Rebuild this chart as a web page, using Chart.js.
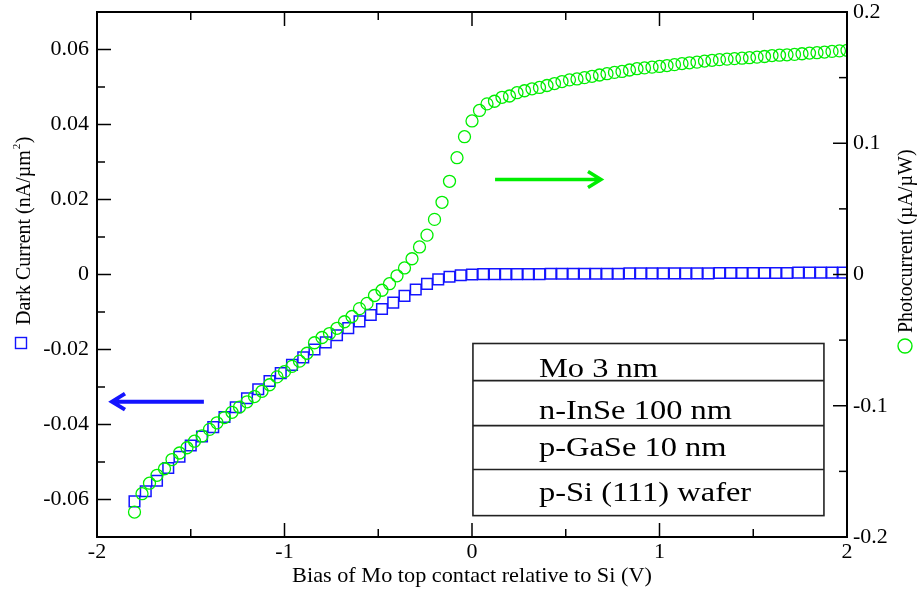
<!DOCTYPE html>
<html lang="en">
<head>
<meta charset="UTF-8">
<title>Dark current and photocurrent vs bias</title>
<script src="https://cdn.jsdelivr.net/npm/chart.js"></script>
<style>
  body { margin: 0; background: #fff; }
  #wrap { width: 918px; height: 592px; }
</style>
</head>
<body>
<div id="wrap"><canvas id="ivChart" width="918" height="592"></canvas></div>
<script>
// dark current (left axis, nA/um^2)
const darkBias = [-1.80,-1.74,-1.68,-1.62,-1.56,-1.50,-1.44,-1.38,-1.32,-1.26,-1.20,-1.14,-1.08,-1.02,-0.96,-0.90,
  -0.84,-0.78,-0.72,-0.66,-0.60,-0.54,-0.48,-0.42,-0.36,-0.30,-0.24,-0.18,-0.12,-0.06,0.00,0.06,0.12,0.18,0.24,0.30,
  0.36,0.42,0.48,0.54,0.60,0.66,0.72,0.78,0.84,0.90,0.96,1.02,1.08,1.14,1.20,1.26,1.32,1.38,1.44,1.50,1.56,1.62,1.68,
  1.74,1.80,1.86,1.92,1.98];
const darkCurrent = [-0.0605,-0.0578,-0.0550,-0.0516,-0.0486,-0.0456,-0.0432,-0.0407,-0.0380,-0.0354,-0.0330,-0.0306,
  -0.0284,-0.0263,-0.0241,-0.0221,-0.0200,-0.0181,-0.0162,-0.0143,-0.0125,-0.0108,-0.0092,-0.0075,-0.0057,-0.0040,
  -0.0025,-0.0013,-0.0006,-0.0002,0.0000,0.0001,0.0001,0.0001,0.0001,0.0001,0.0001,0.0002,0.0002,0.0002,0.0002,0.0002,
  0.0002,0.0002,0.0003,0.0003,0.0003,0.0003,0.0003,0.0003,0.0003,0.0003,0.0004,0.0004,0.0004,0.0004,0.0004,0.0004,
  0.0004,0.0005,0.0005,0.0005,0.0005,0.0005];

// photocurrent (right axis, uA/uW)
const photoBias = [-1.80,-1.76,-1.72,-1.68,-1.64,-1.60,-1.56,-1.52,-1.48,-1.44,-1.40,-1.36,-1.32,-1.28,-1.24,-1.20,
  -1.16,-1.12,-1.08,-1.04,-1.00,-0.96,-0.92,-0.88,-0.84,-0.80,-0.76,-0.72,-0.68,-0.64,-0.60,-0.56,-0.52,-0.48,-0.44,
  -0.40,-0.36,-0.32,-0.28,-0.24,-0.20,-0.16,-0.12,-0.08,-0.04,0.00,0.04,0.08,0.12,0.16,0.20,0.24,0.28,0.32,0.36,0.40,
  0.44,0.48,0.52,0.56,0.60,0.64,0.68,0.72,0.76,0.80,0.84,0.88,0.92,0.96,1.00,1.04,1.08,1.12,1.16,1.20,1.24,1.28,1.32,
  1.36,1.40,1.44,1.48,1.52,1.56,1.60,1.64,1.68,1.72,1.76,1.80,1.84,1.88,1.92,1.96,2.00];
const photoCurrent = [-0.181,-0.167,-0.159,-0.153,-0.148,-0.141,-0.136,-0.132,-0.127,-0.123,
  -0.118,-0.113,-0.109,-0.105,-0.101,-0.097,-0.093,-0.089,-0.084,-0.078,
  -0.074,-0.070,-0.066,-0.060,-0.052,-0.048,-0.045,-0.041,-0.036,-0.032,
  -0.026,-0.022,-0.016,-0.012,-0.007,-0.001,0.005,0.012,0.021,0.030,
  0.042,0.055,0.071,0.089,0.105,0.117,
  0.125,0.130,0.132,0.135,0.136,0.1385,0.140,0.1415,0.1425,0.144,
  0.1455,0.147,0.1483,0.149,0.150,0.151,0.152,0.153,0.154,0.1547,
  0.1558,0.1568,0.1574,0.158,0.1585,0.1592,0.1599,0.1607,0.1613,0.1618,
  0.1626,0.1632,0.1637,0.1641,0.1645,0.1648,0.1652,0.1656,0.1661,0.1668,
  0.1671,0.1674,0.1677,0.1682,0.1687,0.169,0.1695,0.170,0.1704,0.1708];

const biasTicks = [-2, -1, 0, 1, 2];
const biasTickLabels = ['-2', '-1', '0', '1', '2'];
const biasMinor = [-1.5, -0.5, 0.5, 1.5];
const darkTicks = [-0.06, -0.04, -0.02, 0, 0.02, 0.04, 0.06];
const darkTickLabels = ['-0.06', '-0.04', '-0.02', '0', '0.02', '0.04', '0.06'];
const darkMinor = [-0.05, -0.03, -0.01, 0.01, 0.03, 0.05];
const photoTicks = [-0.2, -0.1, 0, 0.1, 0.2];
const photoTickLabels = ['-0.2', '-0.1', '0', '0.1', '0.2'];
const photoMinor = [-0.15, -0.05, 0.05, 0.15];
const stackLayers = ['Mo 3 nm', 'n-InSe 100 nm', 'p-GaSe 10 nm', 'p-Si (111) wafer'];

const serif = "'Liberation Serif', 'Times New Roman', serif";
const BLUE = 'rgb(20,20,255)';
const GREEN = 'rgb(0,238,0)';

function arrow(ctx, x1, y1, x2, y2, color, width) {
  const dir = Math.sign(x2 - x1);
  ctx.strokeStyle = color;
  ctx.lineWidth = width;
  ctx.beginPath();
  ctx.moveTo(x1, y1); ctx.lineTo(x2, y2);
  ctx.moveTo(x2 - dir * 13, y2 - 8); ctx.lineTo(x2, y2); ctx.lineTo(x2 - dir * 13, y2 + 8);
  ctx.stroke();
}

// chart area must not grow for the half-height of edge labels
function noEdgePadding(s) {
  s.paddingTop = 0; s.paddingBottom = 0; s.paddingLeft = 0; s.paddingRight = 0;
}

const decorations = {
  id: 'decorations',
  afterDraw(chart) {
    const { ctx, chartArea: a, scales: { x, y, y2 } } = chart;
    ctx.save();
    ctx.strokeStyle = '#000';
    ctx.lineWidth = 1.5;
    const seg = (x1, y1, x2, y2) => { ctx.beginPath(); ctx.moveTo(x1, y1); ctx.lineTo(x2, y2); ctx.stroke(); };

    // inward ticks
    biasTicks.forEach(v => { const p = x.getPixelForValue(v); seg(p, a.bottom, p, a.bottom - 14); seg(p, a.top, p, a.top + 14); });
    biasMinor.forEach(v => { const p = x.getPixelForValue(v); seg(p, a.bottom, p, a.bottom - 8); seg(p, a.top, p, a.top + 8); });
    darkTicks.forEach(v => { const p = y.getPixelForValue(v); seg(a.left, p, a.left + 14, p); });
    darkMinor.forEach(v => { const p = y.getPixelForValue(v); seg(a.left, p, a.left + 8, p); });
    photoTicks.forEach(v => { const p = y2.getPixelForValue(v); seg(a.right, p, a.right - 14, p); });
    photoMinor.forEach(v => { const p = y2.getPixelForValue(v); seg(a.right, p, a.right - 8, p); });

    ctx.lineWidth = 2;
    ctx.strokeRect(a.left, a.top, a.right - a.left, a.bottom - a.top);

    // axis arrows
    arrow(ctx, x.getPixelForValue(-1.43), y.getPixelForValue(-0.0339), x.getPixelForValue(-1.92), y.getPixelForValue(-0.0339), BLUE, 4);
    arrow(ctx, x.getPixelForValue(0.123), y2.getPixelForValue(0.0724), x.getPixelForValue(0.688), y2.getPixelForValue(0.0724), GREEN, 3.5);

    // layer stack box
    const bl = x.getPixelForValue(0.005), br = x.getPixelForValue(1.877);
    const rows = [-0.0184, -0.0283, -0.0403, -0.0520, -0.0643].map(v => y.getPixelForValue(v));
    const baselines = [-0.0272, -0.0384, -0.0483, -0.0603].map(v => y.getPixelForValue(v));
    ctx.strokeStyle = '#222';
    ctx.lineWidth = 1.6;
    ctx.strokeRect(bl, rows[0], br - bl, rows[4] - rows[0]);
    rows.slice(1, 4).forEach(r => seg(bl, r, br, r));
    ctx.fillStyle = '#000';
    ctx.font = '28px ' + serif;
    ctx.textAlign = 'left';
    ctx.textBaseline = 'alphabetic';
    const tx = x.getPixelForValue(0.357);
    stackLayers.forEach((t, i) => {
      ctx.save(); ctx.translate(tx, baselines[i]); ctx.scale(1.16, 1); ctx.fillText(t, 0, 0); ctx.restore();
    });

    // x axis title
    ctx.font = '21px ' + serif;
    ctx.save();
    ctx.translate((a.left + a.right) / 2, 582);
    ctx.scale(1.06, 1);
    ctx.textAlign = 'center';
    ctx.fillText('Bias of Mo top contact relative to Si (V)', 0, 0);
    ctx.restore();

    // left axis title with square symbol
    ctx.save();
    ctx.translate(30, 325);
    ctx.rotate(-Math.PI / 2);
    ctx.font = '20px ' + serif;
    let w = ctx.measureText('Dark Current (nA/µm').width;
    ctx.fillText('Dark Current (nA/µm', 0, 0);
    ctx.font = '11px ' + serif;
    ctx.fillText('2', w + 1, -10);
    ctx.font = '20px ' + serif;
    ctx.fillText(')', w + 7, 0);
    ctx.restore();
    ctx.strokeStyle = BLUE;
    ctx.lineWidth = 1.4;
    ctx.strokeRect(15.5, 337.5, 11, 11);

    // right axis title with circle symbol
    ctx.save();
    ctx.translate(912, 333);
    ctx.rotate(-Math.PI / 2);
    ctx.font = '20px ' + serif;
    ctx.fillText('Photocurrent (µA/µW)', 0, 0);
    ctx.restore();
    ctx.strokeStyle = GREEN;
    ctx.lineWidth = 1.4;
    ctx.beginPath();
    ctx.arc(905, 346, 7, 0, Math.PI * 2);
    ctx.stroke();

    ctx.restore();
  }
};

const tickFont = { family: serif, size: 22 };

new Chart(document.getElementById('ivChart'), {
  type: 'scatter',
  data: {
    datasets: [
      {
        label: 'Photocurrent',
        data: photoBias.map((b, i) => ({ x: b, y: photoCurrent[i] })),
        yAxisID: 'y2',
        order: 0,
        pointStyle: 'circle',
        pointRadius: 6,
        borderWidth: 1.3,
        borderColor: GREEN,
        backgroundColor: 'rgba(0,0,0,0)'
      },
      {
        label: 'Dark Current',
        data: darkBias.map((b, i) => ({ x: b, y: darkCurrent[i] })),
        yAxisID: 'y',
        order: 1,
        pointStyle: 'rect',
        pointRadius: 7.5,
        borderWidth: 1.5,
        borderColor: BLUE,
        backgroundColor: 'rgba(0,0,0,0)'
      }
    ]
  },
  options: {
    responsive: false,
    animation: false,
    devicePixelRatio: 1,
    layout: { padding: { top: 12, left: 0, right: 0, bottom: 0 } },
    plugins: { legend: { display: false }, tooltip: { enabled: false } },
    scales: {
      x: {
        type: 'linear', position: 'bottom', min: -2, max: 2,
        grid: { display: false, drawTicks: false }, border: { display: false },
        afterBuildTicks: s => { s.ticks = biasTicks.map(v => ({ value: v })); },
        afterFit: s => { s.height = 55; noEdgePadding(s); },
        ticks: { autoSkip: false, maxRotation: 0, padding: 2, color: '#000', font: tickFont,
          callback: (v, i) => biasTickLabels[i] }
      },
      y: {
        type: 'linear', position: 'left', min: -0.07, max: 0.07,
        grid: { display: false, drawTicks: false }, border: { display: false },
        afterBuildTicks: s => { s.ticks = darkTicks.map(v => ({ value: v })); },
        afterFit: s => { s.width = 97; noEdgePadding(s); },
        ticks: { autoSkip: false, padding: 8, color: '#000', font: tickFont,
          callback: (v, i) => darkTickLabels[i] }
      },
      y2: {
        type: 'linear', position: 'right', min: -0.2, max: 0.2,
        grid: { display: false, drawTicks: false }, border: { display: false },
        afterBuildTicks: s => { s.ticks = photoTicks.map(v => ({ value: v })); },
        afterFit: s => { s.width = 71; noEdgePadding(s); },
        ticks: { autoSkip: false, padding: 6, color: '#000', font: tickFont,
          callback: (v, i) => photoTickLabels[i] }
      }
    }
  },
  plugins: [decorations]
});
</script>
</body>
</html>
